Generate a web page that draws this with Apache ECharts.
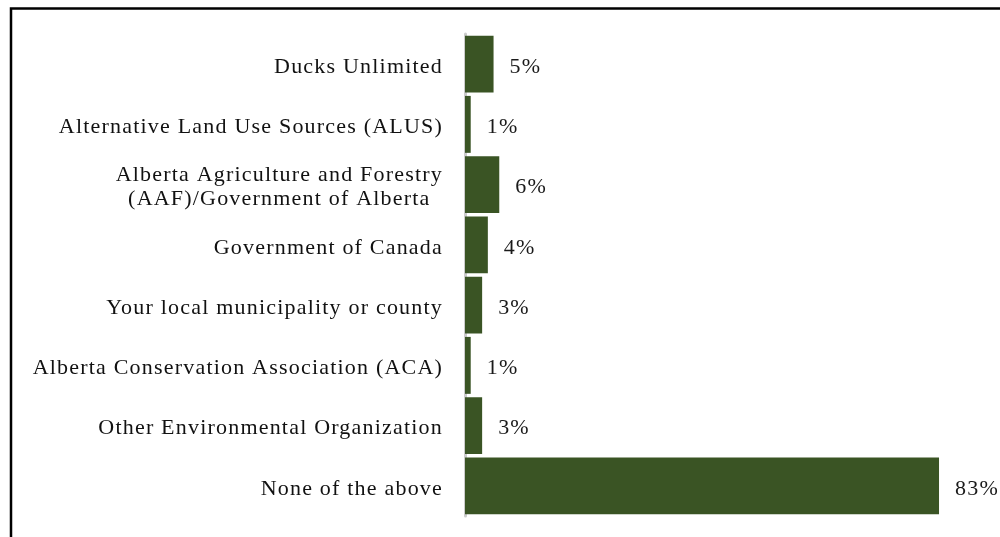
<!DOCTYPE html>
<html>
<head>
<meta charset="utf-8">
<style>
  html, body { margin: 0; padding: 0; background: #fff; }
  #chart { width: 1000px; height: 537px; }
</style>
<script src="https://cdn.jsdelivr.net/npm/echarts@6/dist/echarts.min.js"></script>
</head>
<body>
<div id="chart"></div>
<script>
// Survey answers, top to bottom
const categories = [
  'Ducks Unlimited',
  'Alternative Land Use Sources (ALUS)',
  'Alberta Agriculture and Forestry\n(AAF)/Government of Alberta',
  'Government of Canada',
  'Your local municipality or county',
  'Alberta Conservation Association (ACA)',
  'Other Environmental Organization',
  'None of the above'
];
// Share of respondents, percent
const shares = [5, 1, 6, 4, 3, 1, 3, 83];

// Slightly open tracking for canvas text (labels are set in a loosely spaced serif)
const TRACKING = '1.2px';
const proto = CanvasRenderingContext2D.prototype;
if ('letterSpacing' in proto) {
  const fillText = proto.fillText;
  const measureText = proto.measureText;
  proto.fillText = function (text, x, y, maxWidth) {
    const prev = this.letterSpacing;
    this.letterSpacing = TRACKING;
    if (maxWidth === undefined) fillText.call(this, text, x, y);
    else fillText.call(this, text, x, y, maxWidth);
    this.letterSpacing = prev;
  };
  proto.measureText = function (text) {
    const prev = this.letterSpacing;
    this.letterSpacing = TRACKING;
    const m = measureText.call(this, text);
    this.letterSpacing = prev;
    return m;
  };
}

const FONT = '"Liberation Serif", "Times New Roman", serif';
const chart = echarts.init(document.getElementById('chart'), null, { renderer: 'canvas' });

chart.setOption({
  animation: false,
  backgroundColor: '#ffffff',
  graphic: [{
    type: 'rect',
    shape: { x: 11, y: 8.5, width: 1200, height: 800 },
    style: { fill: 'none', stroke: '#000000', lineWidth: 2.5 },
    silent: true
  }],
  grid: { left: 465, right: 21, top: 34, height: 482, containLabel: false },
  xAxis: {
    type: 'value',
    min: 0,
    max: 90,
    show: false
  },
  yAxis: {
    type: 'category',
    inverse: true,
    data: categories,
    axisLine: { show: true, lineStyle: { color: '#cccccc', width: 3 } },
    axisTick: { show: false },
    splitLine: { show: false },
    axisLabel: {
      margin: 22,
      align: 'right',
      padding: [6, 0, 0, 0],
      formatter: v => v.split('\n').map(l => '{c|' + l + '}').join('\n'),
      rich: {
        c: {
          align: 'center',
          fontFamily: FONT,
          fontSize: 22,
          lineHeight: 24,
          color: '#111111'
        }
      }
    }
  },
  series: [{
    type: 'bar',
    data: shares,
    barCategoryGap: '5.5%',
    itemStyle: { color: '#3a5424' },
    label: {
      show: true,
      position: 'right',
      distance: 16,
      offset: [0, 3],
      formatter: p => p.value + '%',
      fontFamily: FONT,
      fontSize: 22,
      color: '#1a1a1a'
    }
  }]
});
</script>
</body>
</html>
